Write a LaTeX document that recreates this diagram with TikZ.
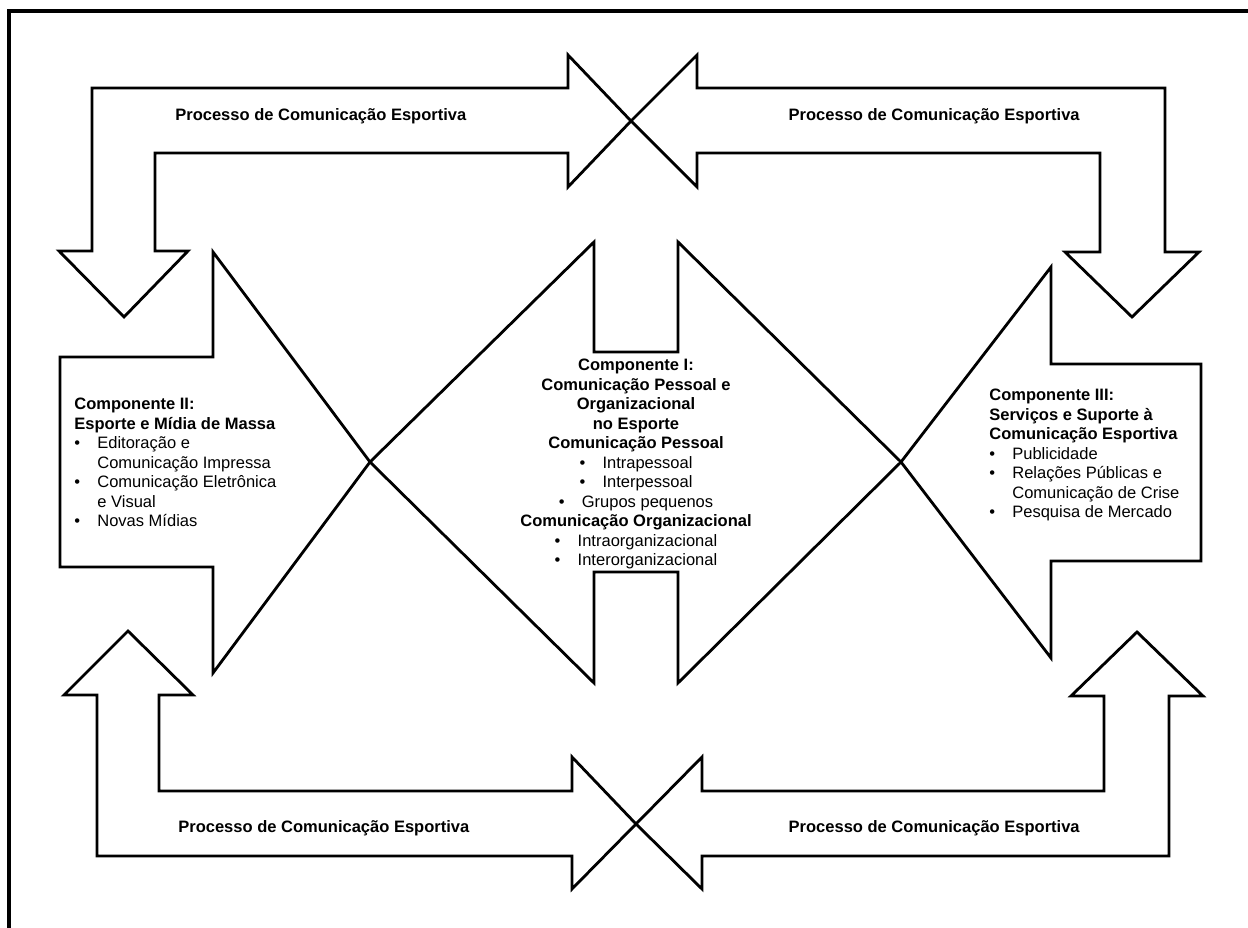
\documentclass[tikz,border=0pt]{standalone}
\usepackage{fontspec}
\setmainfont{Liberation Sans}
\tikzstyle{bigfig}=[x=0.02cm,y=-0.02cm]
\tikzstyle{outline}=[draw=black,line width=1.6pt,line join=miter]
\tikzstyle{proc}=[inner sep=0pt,font=\bfseries\fontsize{9.4}{11.1}\selectfont]
\tikzstyle{comp}=[inner sep=0pt,align=left,font=\fontsize{9.4}{11.1}\selectfont]
\newcommand{\compitem}[1]{\makebox[0.46cm][l]{\textbullet}#1}
\newcommand{\compind}{\hspace*{0.46cm}}

\begin{document}
\begin{tikzpicture}[style=bigfig]
\useasboundingbox (0,0) rectangle (1248,928);
\clip (0,0) rectangle (1248,928);
\draw[line width=1.8pt] (9,11) rectangle (1270,950);

\draw[outline] (568,55) -- (631,121) -- (568,187) -- (568,153) -- (155,153) -- (155,251) -- (188,251) -- (124,317) -- (59,251) -- (92,251) -- (92,88) -- (568,88) -- cycle;
\draw[outline] (697,55) -- (631,121) -- (697,187) -- (697,153) -- (1100,153) -- (1100,252) -- (1065,252) -- (1132,317) -- (1199,252) -- (1165,252) -- (1165,88) -- (697,88) -- cycle;
\draw[outline] (572,757) -- (636,824) -- (572,889) -- (572,856) -- (97,856) -- (97,695) -- (64,695) -- (128,631) -- (193,695) -- (159,695) -- (159,791) -- (572,791) -- cycle;
\draw[outline] (702,757) -- (636,824) -- (702,889) -- (702,856) -- (1169,856) -- (1169,696) -- (1203,696) -- (1137,632) -- (1071,696) -- (1104,696) -- (1104,791) -- (702,791) -- cycle;

\draw[outline] (60,357) -- (213,357) -- (213,252) -- (370,462) -- (213,673) -- (213,567) -- (60,567) -- cycle;
\draw[outline] (370,462) -- (594,242) -- (594,352) -- (678,352) -- (678,242) -- (901,462) -- (678,683) -- (678,572) -- (594,572) -- (594,683) -- cycle;
\draw[outline] (1201,364) -- (1051,364) -- (1051,267) -- (901,462) -- (1051,658) -- (1051,561) -- (1201,561) -- cycle;

\node[proc,anchor=base west] (proctl) at (175,121) {Processo de Comunicação Esportiva};
\node[proc,anchor=base east] (proctr) at (1080,121) {Processo de Comunicação Esportiva};
\node[proc,anchor=base west] (procbl) at (178,833) {Processo de Comunicação Esportiva};
\node[proc,anchor=base east] (procbr) at (1080,833) {Processo de Comunicação Esportiva};

\node[comp,anchor=base west] (compii) at (74,527) {\textbf{Componente II:}\\ \textbf{Esporte e Mídia de Massa}\\ \compitem{Editoração e}\\ \compind Comunicação Impressa\\ \compitem{Comunicação Eletrônica}\\ \compind e Visual\\ \compitem{Novas Mídias}};
\node[comp,align=center,anchor=base] (compi) at (636,566) {\textbf{Componente I:}\\ \textbf{Comunicação Pessoal e}\\ \textbf{Organizacional}\\ \textbf{no Esporte}\\ \textbf{Comunicação Pessoal}\\ \compitem{Intrapessoal}\\ \compitem{Interpessoal}\\ \compitem{Grupos pequenos}\\ \textbf{Comunicação Organizacional}\\ \compitem{Intraorganizacional}\\ \compitem{Interorganizacional}};
\node[comp,anchor=base west] (compiii) at (989,518) {\textbf{Componente III:}\\ \textbf{Serviços e Suporte à}\\ \textbf{Comunicação Esportiva}\\ \compitem{Publicidade}\\ \compitem{Relações Públicas e}\\ \compind Comunicação de Crise\\ \compitem{Pesquisa de Mercado}};
\end{tikzpicture}
\end{document}
